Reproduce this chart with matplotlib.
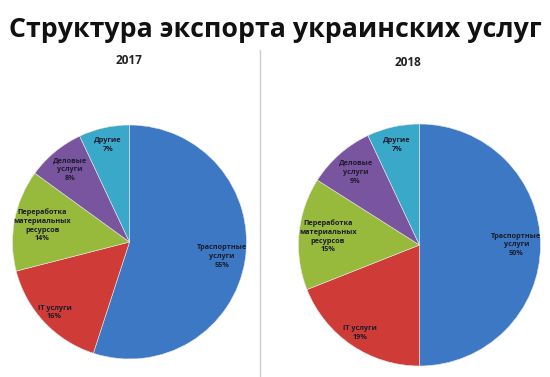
import numpy as np
import matplotlib.pyplot as plt

# Данные
categories = ['Траспортные\nуслуги', 'IT услуги', 'Переработка\nматериальных\nресурсов',
              'Деловые\nуслуги', 'Другие']
shares_2017 = [55, 16, 14, 8, 7]
shares_2018 = [50, 19, 15, 9, 7]
years = ['2017', '2018']
colors = ['#3d78c4', '#cf3b37', '#97b93c', '#7a559f', '#3aa8c9']
label_dist = [0.80, 0.88, 0.76, 0.80, 0.85]

plt.rcParams['font.family'] = ['Open Sans', 'DejaVu Sans']

fig = plt.figure(figsize=(5.5, 3.77), dpi=100)
fig.patch.set_facecolor('white')

fig.text(0.5, 1 - 30 / 377, 'Структура экспорта украинских услуг', ha='center', va='center',
         fontsize=19.3, fontweight='bold', color='#111111')

# разделитель
fig.add_artist(plt.Line2D([260 / 550, 260 / 550], [0, 1 - 50 / 377], color='#cccccc', lw=1))

positions = [[12.5 / 550, 18 / 377, 234 / 550, 234 / 377],
             [298.5 / 550, 11 / 377, 242 / 550, 242 / 377]]
year_pos = [(129 / 550, 1 - 60 / 377), (408 / 550, 1 - 62 / 377)]

for shares, year, pos, ypos in zip([shares_2017, shares_2018], years, positions, year_pos):
    ax = fig.add_axes(pos)
    wedges, _ = ax.pie(shares, colors=colors, startangle=90, counterclock=False,
                       wedgeprops=dict(linewidth=0.4, edgecolor='#e8e8e8'))
    ax.set_xlim(-1, 1)
    ax.set_ylim(-1, 1)
    ax.axis('off')
    for w, cat, val, d in zip(wedges, categories, shares, label_dist):
        ang = np.deg2rad((w.theta1 + w.theta2) / 2)
        ax.text(d * np.cos(ang), d * np.sin(ang), f'{cat}\n{val}%', ha='center', va='center',
                fontsize=5.2, fontweight='bold', color='#1c1c2c', linespacing=1.35)
    fig.text(ypos[0], ypos[1], year, ha='center', va='center', fontsize=8.5,
             fontweight='bold', color='#222222')

plt.savefig('out.png', dpi=100)
